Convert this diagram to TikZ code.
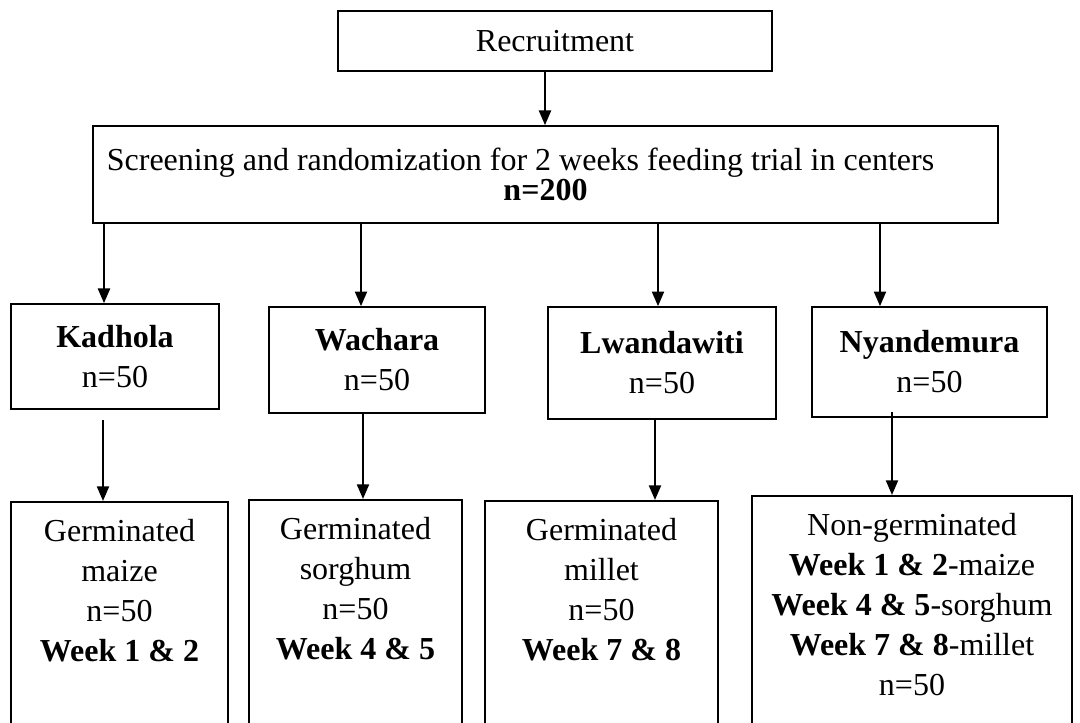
\documentclass[tikz,border=0pt]{standalone}
\usepackage{fontspec}
\setmainfont{Liberation Serif}
\usetikzlibrary{arrows.meta}
\tikzset{
  stagebox/.style={draw, line width=0.6pt, align=center, inner sep=2pt, font=\fontsize{12}{15}\selectfont},
  dietbox/.style={stagebox, anchor=north, inner ysep=6.5pt},
  link/.style={-{Triangle[width=4.5pt,length=5.5pt]}, line width=0.8pt}
}
\begin{document}
\begin{tikzpicture}[x=0.375pt,y=-0.375pt]
\clip (0,0) rectangle (1080,723);
% top of the chart
\node[stagebox, minimum width=162.75pt, minimum height=22.5pt] (rec) at (555,41) {Recruitment};
\node[stagebox, minimum width=339.4pt, minimum height=36.4pt, font=\fontsize{12}{11.5}\selectfont] (scr) at (545.5,174.5)
  {Screening and randomization for 2 weeks feeding trial in centers\hspace*{18.75pt}\\ \textbf{n=200}};
% the four centers
\node[stagebox, minimum width=78pt, minimum height=39.4pt] (kad) at (115,356.5) {\textbf{Kadhola}\\n=50};
\node[stagebox, minimum width=81pt, minimum height=39.75pt] (wac) at (377,360) {\textbf{Wachara}\\n=50};
\node[stagebox, minimum width=85.5pt, minimum height=42pt] (lwa) at (662,363) {\textbf{Lwandawiti}\\n=50};
\node[stagebox, minimum width=88.1pt, minimum height=41.25pt] (nya) at (929.5,362) {\textbf{Nyandemura}\\n=50};
% diets
\node[dietbox, minimum width=81.4pt, text depth=30pt] (maize) at (119.5,501) {Germinated\\maize\\n=50\\\textbf{Week 1 \& 2}};
\node[dietbox, minimum width=79.9pt, text depth=30pt] (sorghum) at (355.5,499) {Germinated\\sorghum\\n=50\\\textbf{Week 4 \& 5}};
\node[dietbox, minimum width=87.4pt, text depth=30pt] (millet) at (601.5,500) {Germinated\\millet\\n=50\\\textbf{Week 7 \& 8}};
\node[dietbox, minimum width=120pt, text depth=4pt] (nongerm) at (912,495)
  {Non-germinated\\\textbf{Week 1 \& 2}-maize\\\textbf{Week 4 \& 5}-sorghum\\\textbf{Week 7 \& 8}-millet\\n=50};
% arrows
\draw[link] (rec.south -| 545,0) -- (scr.north -| 545,0);
\foreach \site/\x in {kad/104,wac/361,lwa/658,nya/880}
  \draw[link] (scr.south -| \x,0) -- (\site.north -| \x,0);
\draw[link, shorten <=4pt] (kad.south -| 103,0) -- (maize.north -| 103,0);
\draw[link] (wac.south -| 363,0) -- (sorghum.north -| 363,0);
\draw[link] (lwa.south -| 655,0) -- (millet.north -| 655,0);
\draw[link, shorten <=-2.25pt] (nya.south -| 892,0) -- (nongerm.north -| 892,0);
\end{tikzpicture}
\end{document}
